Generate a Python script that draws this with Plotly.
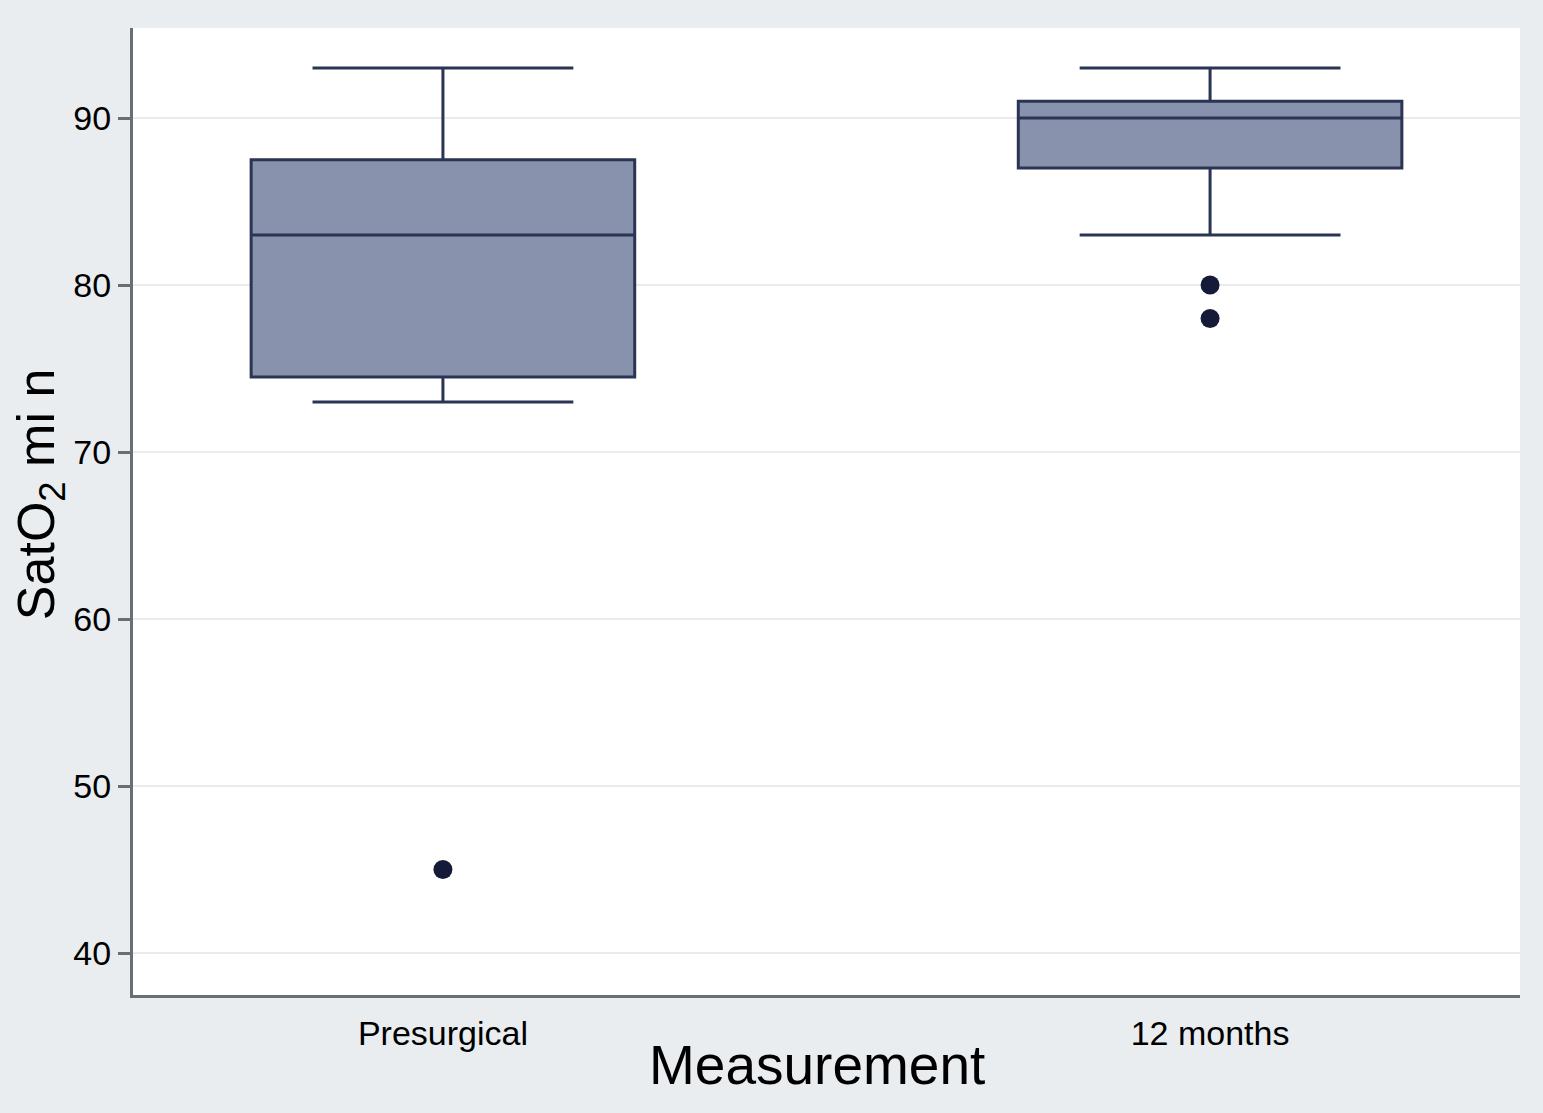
import plotly.graph_objects as go

categories = ["Presurgical", "12 months"]
q1 = [74.5, 87.0]
median = [83.0, 90.0]
q3 = [87.5, 91.0]
lower_whisker = [73.0, 83.0]
upper_whisker = [93.0, 93.0]
outlier_x = ["Presurgical", "12 months", "12 months"]
outlier_y = [45.0, 80.0, 78.0]
y_ticks = [40, 50, 60, 70, 80, 90]

fig = go.Figure()
fig.add_trace(go.Box(
    x=categories, q1=q1, median=median, q3=q3,
    lowerfence=lower_whisker, upperfence=upper_whisker,
    boxpoints=False, width=0.5, whiskerwidth=0.68,
    fillcolor="#8892ad", line=dict(color="#2a3454", width=3),
    showlegend=False, hoverinfo="skip",
))
fig.add_trace(go.Scatter(
    x=outlier_x, y=outlier_y, mode="markers",
    marker=dict(size=19, color="#141a38"),
    showlegend=False, hoverinfo="skip",
))

fig.update_layout(
    width=1543, height=1113,
    paper_bgcolor="#e9edf0", plot_bgcolor="white",
    margin=dict(l=133, r=23, t=28, b=118),
    font=dict(family="Liberation Sans, Arial, sans-serif", color="black"),
    annotations=[
        dict(text="Measurement", xref="paper", yref="paper",
             x=0.4928, y=-0.0724, xanchor="center", yanchor="middle",
             showarrow=False, font=dict(size=55)),
        dict(text="SatO<sub>2</sub> mi n", xref="paper", yref="paper",
             x=-0.067, y=0.517, xanchor="center", yanchor="middle",
             textangle=-90, showarrow=False, font=dict(size=52)),
    ],
)
fig.update_xaxes(
    type="category", categoryorder="array", categoryarray=categories,
    range=[-0.404, 1.404], showgrid=False, zeroline=False,
    showline=True, linecolor="#6a6d72", linewidth=3,
    ticks="", ticklabelstandoff=6,
    tickfont=dict(size=34),
)
fig.update_yaxes(
    range=[37.49, 95.39], tickvals=y_ticks,
    showgrid=True, gridcolor="#ebebeb", gridwidth=2, zeroline=False,
    showline=True, linecolor="#6a6d72", linewidth=3,
    ticks="outside", ticklen=12, tickwidth=3, tickcolor="#6a6d72",
    tickfont=dict(size=34),
)

fig.write_html(
    "out.html",
    config={"displayModeBar": False},
    post_script="document.body.style.margin='0px';document.body.style.background='#e9edf0';",
)
